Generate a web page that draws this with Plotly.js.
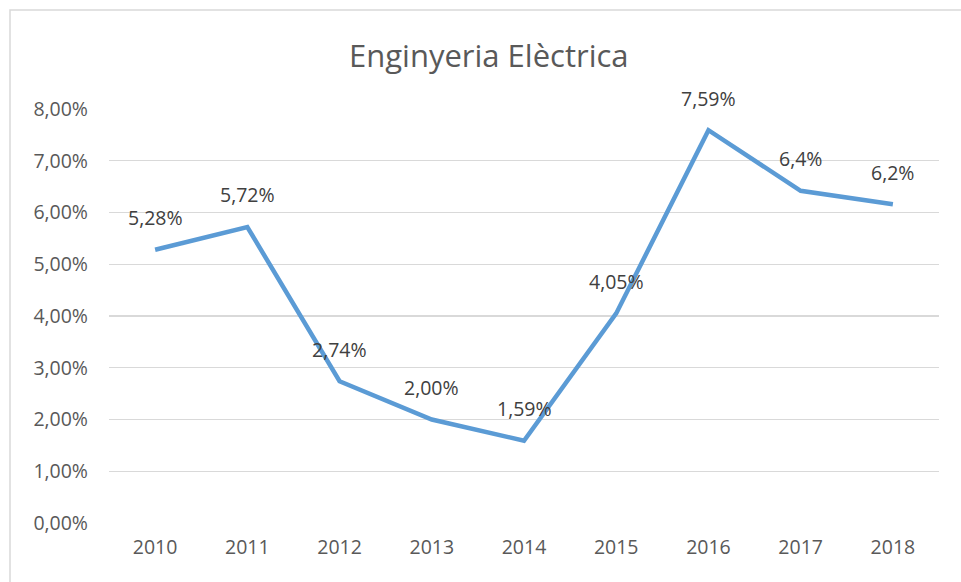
<!DOCTYPE html>
<html>
<head>
<meta charset="utf-8">
<script src="https://cdn.plot.ly/plotly-3.0.1.min.js"></script>
<style>
html,body{margin:0;padding:0;background:#fff;}
#chart{width:961px;height:582px;}
</style>
</head>
<body>
<div id="chart"></div>
<script>
const years = ['2010','2011','2012','2013','2014','2015','2016','2017','2018'];
const values = [5.28, 5.72, 2.74, 2.00, 1.59, 4.05, 7.59, 6.42, 6.16];
const labels = ['5,28%','5,72%','2,74%','2,00%','1,59%','4,05%','7,59%','6,4%','6,2%'];
const yTickVals = [0,1,2,3,4,5,6,7,8];
const yTickText = ['0,00%','1,00%','2,00%','3,00%','4,00%','5,00%','6,00%','7,00%','8,00%'];

const W = 961, H = 582;
const m = {l:109, r:22, t:109, b:59};
const pw = W - m.l - m.r, ph = H - m.t - m.b;
const px = x => (x - m.l) / pw;
const py = y => (H - m.b - y) / ph;

const font = '"Open Sans", Calibri, sans-serif';

const annotations = years.map((yr, i) => ({
  x: i, y: values[i], xref: 'x', yref: 'y',
  text: labels[i], showarrow: false, yshift: 32,
  font: {family: font, size: 19.5, color: '#404040'}
}));
annotations.push({
  xref: 'paper', yref: 'paper', x: px(W/2 + 8), y: py(55),
  xanchor: 'center', yanchor: 'middle', showarrow: false,
  text: 'Enginyeria Elèctrica',
  font: {family: font, size: 31, color: '#595959'}
});

Plotly.newPlot('chart', [{
  x: years, y: values, type: 'scatter', mode: 'lines',
  line: {color: '#5b9bd5', width: 4.5},
  hoverinfo: 'none'
}], {
  width: W, height: H, margin: m,
  paper_bgcolor: '#fff', plot_bgcolor: '#fff',
  showlegend: false,
  xaxis: {
    type: 'category', range: [-0.5, 8.5], showgrid: false, zeroline: false,
    showline: false, ticks: '', ticklabelstandoff: 10,
    tickfont: {family: font, size: 19.5, color: '#595959'}
  },
  yaxis: {
    range: [0, 8], tickvals: yTickVals, ticktext: yTickText,
    showgrid: true, gridcolor: '#d9d9d9', gridwidth: 1.3, zeroline: false,
    showline: false, ticks: '', ticklabelstandoff: 20,
    tickfont: {family: font, size: 19.5, color: '#595959'}
  },
  annotations: annotations,
  shapes: [{
    type: 'rect', xref: 'paper', yref: 'paper',
    x0: px(10), x1: px(1000), y0: py(620), y1: py(10),
    line: {color: '#d9d9d9', width: 1.5}, fillcolor: 'rgba(0,0,0,0)', layer: 'below'
  }]
}, {staticPlot: true});
</script>
</body>
</html>
